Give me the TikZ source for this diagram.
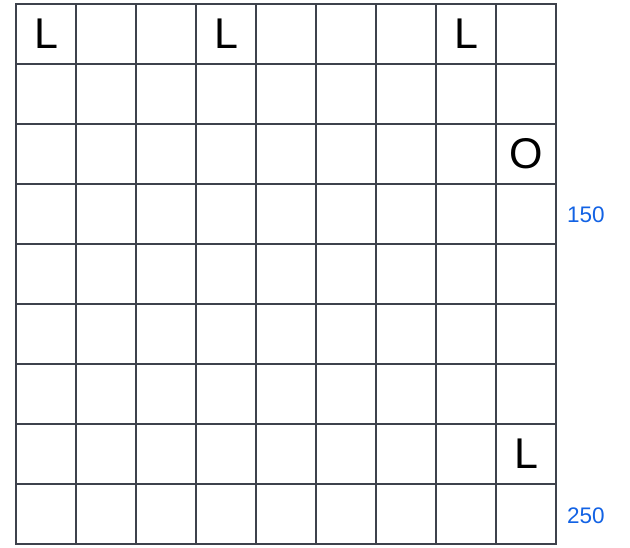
\documentclass[tikz,border=0pt]{standalone}
\usepackage{fontspec}
\setmainfont{Liberation Sans}
\definecolor{gridline}{RGB}{62,66,76}
\definecolor{markblue}{RGB}{18,98,228}
\usepackage{tikz}
\usetikzlibrary{positioning}

\begin{document}
\begin{tikzpicture}[
      x=1pt,y=-1pt,
      cell/.style={draw=gridline,line width=1.4pt,minimum size=60pt,
                   inner sep=0pt,outer sep=0pt,anchor=north west},
      letter/.style={font=\fontsize{43}{43}\selectfont,inner sep=0pt},
      rowmark/.style={font=\fontsize{22.5}{22.5}\selectfont,text=markblue,
                   anchor=west,inner sep=0pt}]
    \useasboundingbox (0,0) rectangle (630,547);
    % 9 x 9 board
    \foreach \r in {0,...,8}
      \foreach \c in {0,...,8}
        \node[cell] (c\r\c) at (16+60*\c,4+60*\r) {};
    % letters
    \node[letter] (l00) at (c00.center) {L};
    \node[letter] (l03) at (c03.center) {L};
    \node[letter] (l07) at (c07.center) {L};
    \node[letter] (o28) at (c28.center) {O};
    \node[letter] (l78) at (c78.center) {L};
    % row marks
    \node[rowmark] (m150) at (567,215) {150};
    \node[rowmark] (m250) at (567,516) {250};
  \end{tikzpicture}
\end{document}
